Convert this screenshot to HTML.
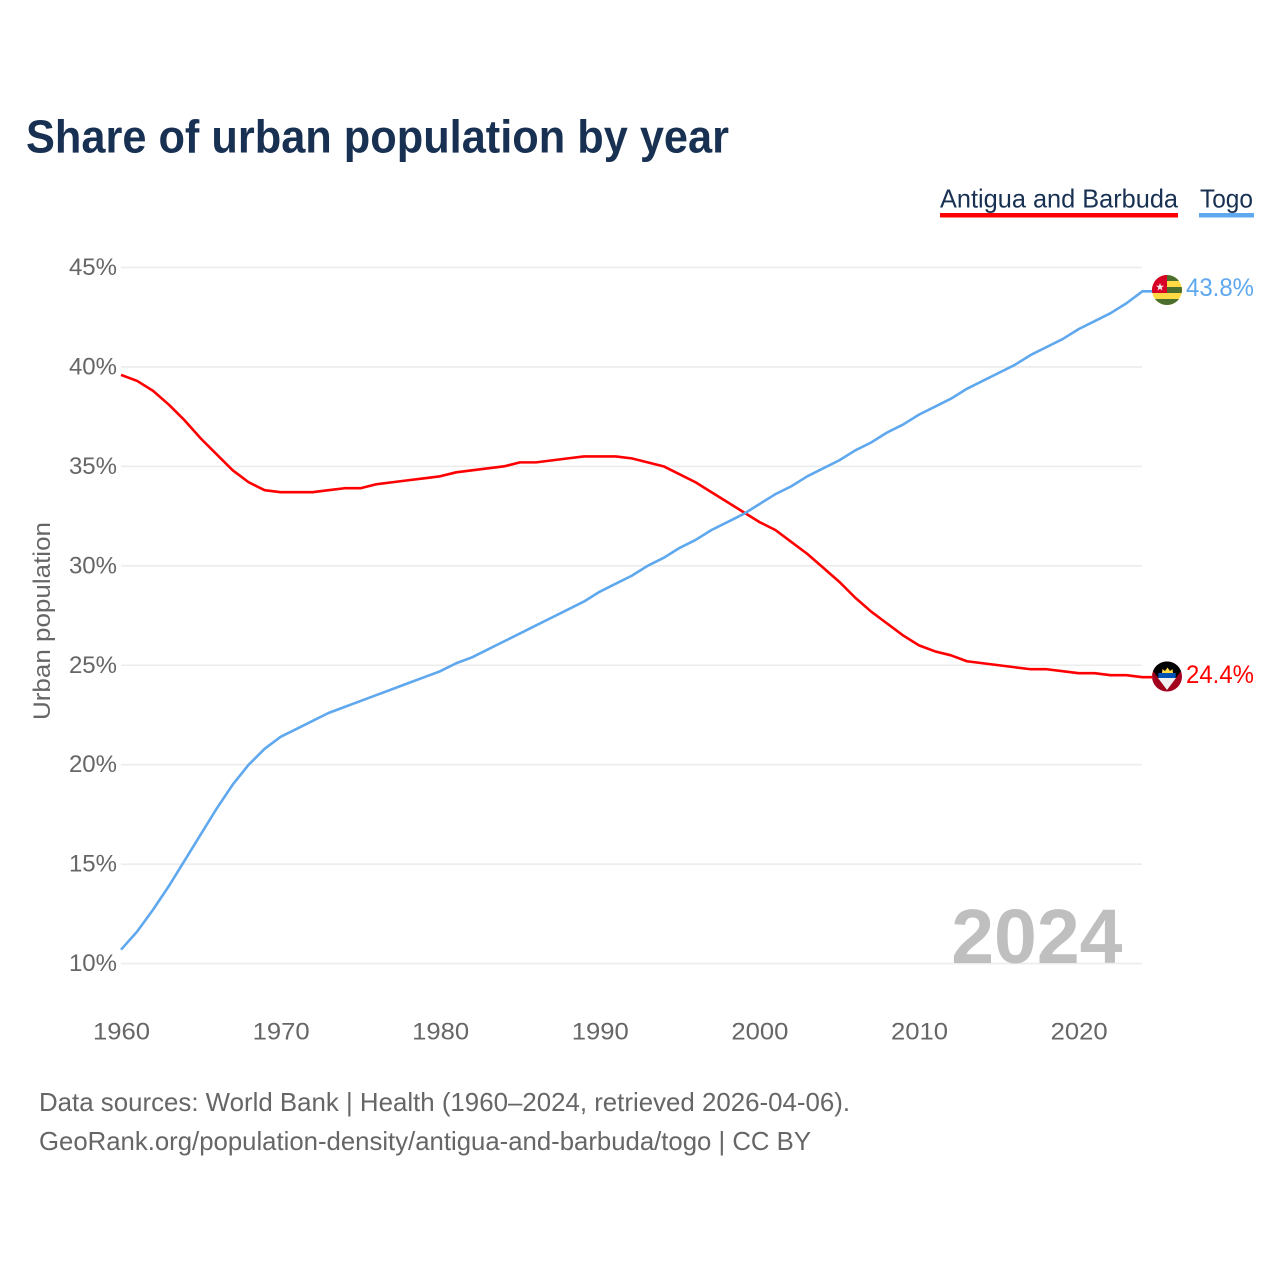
<!DOCTYPE html>
<html lang="en">
<head>
<meta charset="utf-8">
<title>Share of urban population by year</title>
<style>
html,body{margin:0;padding:0;background:#fff;width:1280px;height:1280px;overflow:hidden}
svg{display:block}
text{font-family:"Liberation Sans",sans-serif}
</style>
</head>
<body>
<svg id="chart" xmlns="http://www.w3.org/2000/svg" width="1280" height="1280" viewBox="0 0 1280 1280">
  <defs>
    <clipPath id="flag-clip-tg"><circle cx="1167" cy="290" r="15"/></clipPath>
    <clipPath id="flag-clip-ag"><circle cx="1167" cy="676.5" r="15"/></clipPath>
  </defs>
  <rect x="0" y="0" width="1280" height="1280" fill="#fff"/>
  <text x="26" y="152.5" font-size="46" font-weight="700" fill="#183153" textLength="703" lengthAdjust="spacingAndGlyphs">Share of urban population by year</text>

  <g>
    <g>
      <text x="940" y="207.5" font-size="26" fill="#183153" textLength="238" lengthAdjust="spacingAndGlyphs">Antigua and Barbuda</text>
      <rect x="940" y="213" width="238" height="4.5" fill="#ff0000"/>
    </g>
    <g>
      <text x="1200" y="207.5" font-size="26" fill="#183153" textLength="53" lengthAdjust="spacingAndGlyphs">Togo</text>
      <rect x="1199" y="213" width="55" height="4.5" fill="#5fa8ee"/>
    </g>
  </g>

  <g id="grid"></g>
  <g id="yticks"></g>
  <g id="xticks"></g>

  <text transform="translate(50,720) rotate(-90)" x="0" y="0" font-size="24" fill="#666" textLength="198" lengthAdjust="spacingAndGlyphs">Urban population</text>

  <text x="1122.5" y="963" font-size="77" font-weight="700" fill="#bfbfbf" text-anchor="end">2024</text>

  <g id="series"></g>

  <g clip-path="url(#flag-clip-tg)">
    <rect x="1152" y="275" width="30" height="30" fill="#ffda44"/>
    <rect x="1152" y="275" width="30" height="6" fill="#496e2d"/>
    <rect x="1152" y="287" width="30" height="6" fill="#496e2d"/>
    <rect x="1152" y="299" width="30" height="6" fill="#496e2d"/>
    <rect x="1152" y="275" width="15" height="18" fill="#d80027"/>
    <polygon points="1160,283 1161,285.8 1164,285.8 1161.6,287.6 1162.5,290.5 1160,288.8 1157.5,290.5 1158.4,287.6 1156,285.8 1159,285.8" fill="#f0f0f0"/>
  </g>
  <g clip-path="url(#flag-clip-ag)">
    <rect x="1152" y="661.5" width="30" height="30" fill="#a2001d"/>
    <polygon points="1146,661.5 1188,661.5 1167,690" fill="#000"/>
    <polygon points="1158,678 1176,678 1167,690" fill="#f0f0f0"/>
    <rect x="1158.3" y="673" width="17.4" height="5" fill="#0052b4"/>
    <polygon points="1162,673 1162.5,669 1165,671 1167.5,667.5 1170,671 1172.5,669 1173,673" fill="#ffda44"/>
  </g>

  <text id="value-togo" x="1186" y="296" font-size="25" fill="#5fa8ee" textLength="68" lengthAdjust="spacingAndGlyphs">43.8%</text>
  <text id="value-ag" x="1186" y="683" font-size="25" fill="#ff0000" textLength="68" lengthAdjust="spacingAndGlyphs">24.4%</text>

  <text x="39" y="1111" font-size="26" fill="#666" textLength="811" lengthAdjust="spacingAndGlyphs">Data sources: World Bank | Health (1960–2024, retrieved 2026-04-06).</text>
  <text x="39" y="1150" font-size="26" fill="#666" textLength="772" lengthAdjust="spacingAndGlyphs">GeoRank.org/population-density/antigua-and-barbuda/togo | CC BY</text>
</svg>
<script>
const startYear = 1960;
const yTickValues = [10, 15, 20, 25, 30, 35, 40, 45];
const xTickValues = [1960, 1970, 1980, 1990, 2000, 2010, 2020];
const antiguaValues = [
  39.6, 39.3, 38.8, 38.1, 37.3, 36.4, 35.6, 34.8, 34.2, 33.8,
  33.7, 33.7, 33.7, 33.8, 33.9, 33.9, 34.1, 34.2, 34.3, 34.4,
  34.5, 34.7, 34.8, 34.9, 35.0, 35.2, 35.2, 35.3, 35.4, 35.5,
  35.5, 35.5, 35.4, 35.2, 35.0, 34.6, 34.2, 33.7, 33.2, 32.7,
  32.2, 31.8, 31.2, 30.6, 29.9, 29.2, 28.4, 27.7, 27.1, 26.5,
  26.0, 25.7, 25.5, 25.2, 25.1, 25.0, 24.9, 24.8, 24.8, 24.7,
  24.6, 24.6, 24.5, 24.5, 24.4
];
const togoValues = [
  10.7, 11.6, 12.7, 13.9, 15.2, 16.5, 17.8, 19.0, 20.0, 20.8,
  21.4, 21.8, 22.2, 22.6, 22.9, 23.2, 23.5, 23.8, 24.1, 24.4,
  24.7, 25.1, 25.4, 25.8, 26.2, 26.6, 27.0, 27.4, 27.8, 28.2,
  28.7, 29.1, 29.5, 30.0, 30.4, 30.9, 31.3, 31.8, 32.2, 32.6,
  33.1, 33.6, 34.0, 34.5, 34.9, 35.3, 35.8, 36.2, 36.7, 37.1,
  37.6, 38.0, 38.4, 38.9, 39.3, 39.7, 40.1, 40.6, 41.0, 41.4,
  41.9, 42.3, 42.7, 43.2, 43.8
];

const NS = 'http://www.w3.org/2000/svg';
function xScale(year) { return 121 + (year - 1960) * 15.96; }
function yScale(v) { return 963.6 - (v - 10) * 19.89; }
function make(tag, parent, attrs, text) {
  const el = document.createElementNS(NS, tag);
  for (const k in attrs) el.setAttribute(k, attrs[k]);
  if (text !== undefined) el.textContent = text;
  parent.appendChild(el);
  return el;
}

const grid = document.getElementById('grid');
const yticks = document.getElementById('yticks');
const xticks = document.getElementById('xticks');
const series = document.getElementById('series');

yTickValues.forEach(function (v) {
  const line = make('line', grid, { x1: 121, x2: 1142, y1: yScale(v), y2: yScale(v), stroke: '#ececec', 'stroke-width': 1.6 });
  
  
  const label = make('text', yticks, { x: 117, y: yScale(v) + 7.5, 'font-size': 24, fill: '#666', 'text-anchor': 'end' }, v + '%');
  
  
});

xTickValues.forEach(function (yr) {
  const label = make('text', xticks, { x: xScale(yr) + 0.5, y: 1039.5, 'font-size': 24, fill: '#666', 'text-anchor': 'middle', textLength: 57, lengthAdjust: 'spacingAndGlyphs' }, String(yr));
  
  
});

function drawSeries(values, color, slug) {
  const pts = values.map(function (v, i) { return xScale(startYear + i).toFixed(2) + ',' + yScale(v).toFixed(2); });
  const lastY = yScale(values[values.length - 1]);
  const line = make('polyline', series, { points: pts.join(' ') + ' 1152,' + lastY.toFixed(2), fill: 'none', stroke: color, 'stroke-width': 2.6, 'stroke-linejoin': 'round' });
  
  
}
drawSeries(antiguaValues, '#ff0000', 'antigua-and-barbuda');
drawSeries(togoValues, '#5fa8ee', 'togo');
</script>
</body>
</html>
